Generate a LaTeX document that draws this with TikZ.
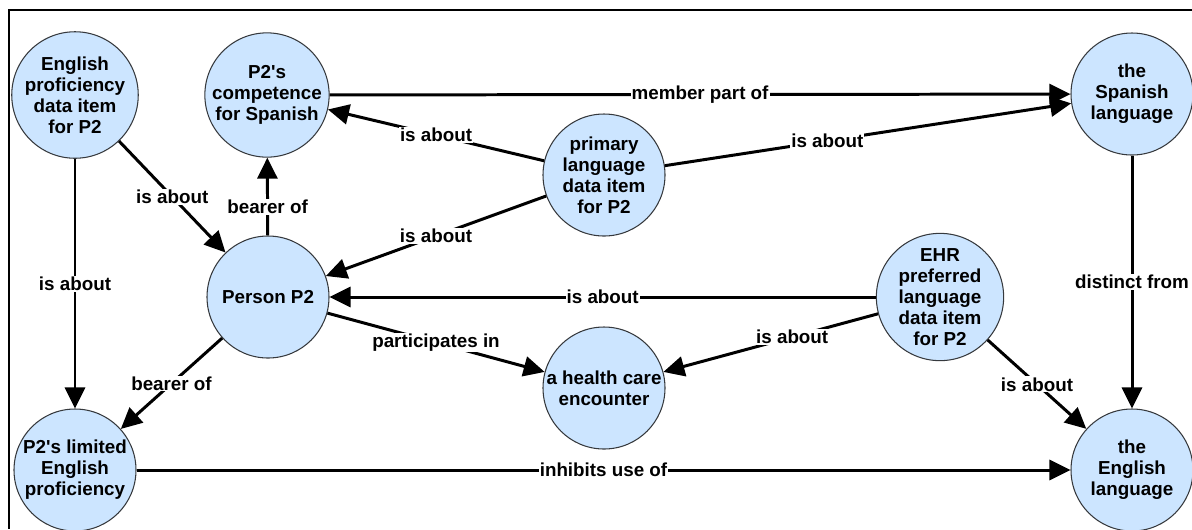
\documentclass[tikz,border=0pt]{standalone}
\usepackage{fontspec}
\setmainfont{Liberation Sans}
\usetikzlibrary{arrows.meta}
\definecolor{conceptfill}{HTML}{CCE5FF}
\definecolor{conceptline}{HTML}{36393D}
\tikzset{
  concept/.style={circle,draw=conceptline,fill=conceptfill,line width=0.6pt,
    minimum size=2.44cm,inner sep=0pt,align=center,
    font=\bfseries\fontsize{10.7}{12}\selectfont},
  rel/.style={fill=white,inner sep=0.6pt,font=\bfseries\fontsize{10.7}{12}\selectfont},
  >={Triangle[length=0.42cm,width=0.4cm]}
}

\begin{document}
\begin{tikzpicture}
\useasboundingbox (0,0) rectangle (23.84,-10.58);
\draw[line width=0.8pt] (23.84,-0.2) -- (0.18,-0.2) -- (0.18,-10.58);
%
\node (engitem) [concept] at (1.5,-1.9) {English\\proficiency\\data item\\for P2};
\node (compet) [concept] at (5.34,-1.9) {P2\textquotesingle s\\competence\\for Spanish};
\node (spanish) [concept] at (22.64,-1.88) {the\\Spanish\\language};
\node (primitem) [concept] at (12.08,-3.5) {primary\\language\\data item\\for P2};
\node (person) [concept] at (5.36,-5.94) {Person P2};
\node (ehritem) [concept] at (18.8,-5.94) {EHR\\preferred\\language\\data item\\for P2};
\node (encounter) [concept] at (12.08,-7.76) {a health care\\encounter};
\node (limited) [concept] at (1.5,-9.4) {P2\textquotesingle s limited\\English\\proficiency};
\node (english) [concept] at (22.64,-9.4) {the\\English\\language};
%
\path[->,line width=1.7pt] (compet) edge node[rel] {member part of} (spanish);
\path[->,line width=1.7pt] (primitem) edge node[rel] {is about} (compet);
\path[->,line width=1.7pt] (primitem) edge node[rel,pos=0.4] {is about} (spanish);
\path[->,line width=1.7pt] (primitem) edge node[rel] {is about} (person);
\path[->,line width=1.7pt] (engitem) edge node[rel] {is about} (person);
\path[->,line width=1.7pt] (engitem) edge node[rel] {is about} (limited);
\path[->,line width=1.7pt] (person) edge node[rel,pos=0.37] {bearer of} (compet);
\path[->,line width=1.7pt] (person) edge node[rel] {bearer of} (limited);
\path[->,line width=1.7pt] (person) edge node[rel] {participates in} (encounter);
\path[->,line width=1.7pt] (ehritem) edge node[rel] {is about} (person);
\path[->,line width=1.7pt] (ehritem) edge node[rel,pos=0.4] {is about} (encounter);
\path[->,line width=1.7pt] (ehritem) edge node[rel] {is about} (english);
\path[->,line width=1.7pt] (spanish) edge node[rel] {distinct from} (english);
\path[->,line width=1.7pt] (limited) edge node[rel] {inhibits use of} (english);
\end{tikzpicture}
\end{document}
